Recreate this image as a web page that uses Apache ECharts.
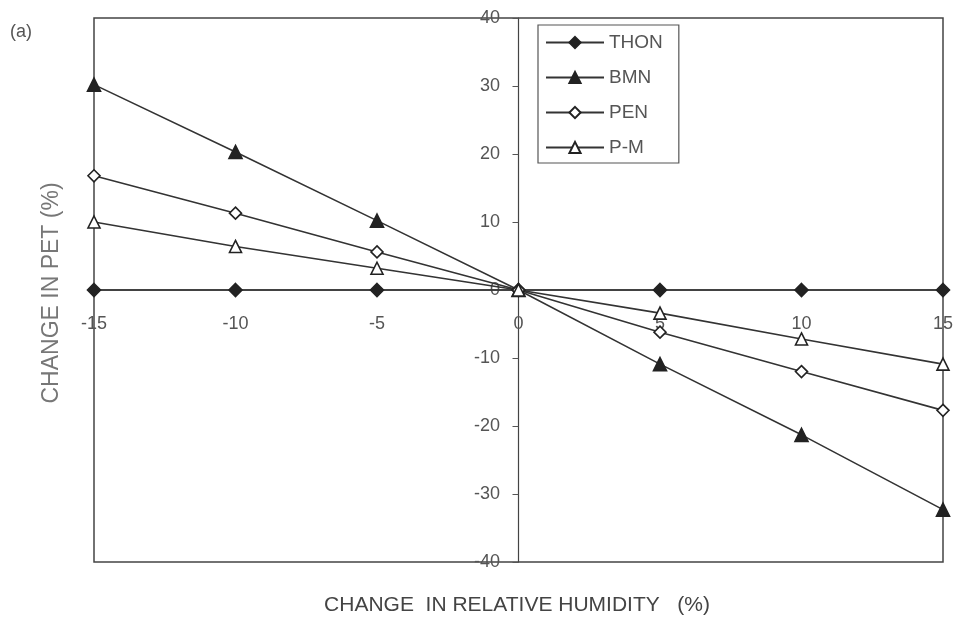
<!DOCTYPE html>
<html><head><meta charset="utf-8">
<script src="https://cdn.jsdelivr.net/npm/echarts@6/dist/echarts.min.js"></script>
<style>html,body{margin:0;padding:0;background:#fff}#c{width:957px;height:617px}</style>
</head><body><div id="c"></div>
<script>
var xValues = [-15, -10, -5, 0, 5, 10, 15];
var thon = [0, 0, 0, 0, 0, 0, 0];
var bmn = [30.2, 20.3, 10.2, 0, -10.9, -21.3, -32.3];
var pen = [16.8, 11.3, 5.6, 0, -6.2, -12.0, -17.7];
var pm = [10.0, 6.4, 3.2, 0, -3.4, -7.2, -10.9];
var seriesNames = ['THON', 'BMN', 'PEN', 'P-M'];
var xTitle = 'CHANGE  IN RELATIVE HUMIDITY   (%)';
var yTitle = 'CHANGE IN PET (%)';

function pairs(arr){ return xValues.map(function(x,i){ return [x, arr[i]]; }); }
var lineCol = '#333';
var textCol = '#555';
function mk(name, data, symbol, filled, size){
  return {
    name: name, type: 'line', data: pairs(data), symbol: symbol, symbolSize: size,
    lineStyle: {color: lineCol, width: 1.6},
    itemStyle: {color: filled ? '#222' : '#fff', borderColor: '#222', borderWidth: 1.6},
    emphasis: {disabled: true}, z: 3
  };
}
var chart = echarts.init(document.getElementById('c'), null, {renderer: 'canvas'});
chart.setOption({
  animation: false,
  backgroundColor: '#fff',
  grid: {left: 94, right: 14, top: 18, bottom: 55, show: true, borderColor: '#444', borderWidth: 1.5},
  xAxis: {
    type: 'value', min: -15, max: 15, interval: 5,
    axisLine: {onZero: true, lineStyle: {color: '#444', width: 1.5}},
    axisTick: {show: false},
    axisLabel: {color: textCol, fontSize: 18, fontFamily: 'Liberation Sans', margin: -247},
    splitLine: {show: false}
  },
  yAxis: {
    type: 'value', min: -40, max: 40, interval: 10,
    axisLine: {onZero: true, lineStyle: {color: '#444', width: 1.2}},
    axisTick: {show: true, length: 6, lineStyle: {color: '#555'}},
    axisLabel: {color: textCol, fontSize: 18, fontFamily: 'Liberation Sans', margin: -406},
    splitLine: {show: false}
  },
  legend: {
    data: seriesNames, orient: 'vertical', left: 538, top: 25,
    itemWidth: 58, itemHeight: 14, itemGap: 16,
    padding: [8, 16, 6, 7],
    borderColor: '#555', borderWidth: 1.2, backgroundColor: '#fff',
    textStyle: {color: textCol, fontSize: 19, lineHeight: 16, fontFamily: 'Liberation Sans'}
  },
  graphic: [
    {type: 'text', left: 10, top: 23, style: {text: '(a)', fill: textCol, font: '18px "Liberation Sans"'}},
    {type: 'text', x: 52, y: 293, rotation: Math.PI/2, style: {text: yTitle, fill: '#777', font: '23px "Liberation Sans"', align: 'center', verticalAlign: 'middle'}},
    {type: 'text', x: 517, y: 605, style: {text: xTitle, fill: '#444', font: '21px "Liberation Sans"', align: 'center', verticalAlign: 'middle'}}
  ],
  series: [
    mk('THON', thon, 'diamond', true, 13),
    mk('BMN', bmn, 'triangle', true, 13),
    mk('PEN', pen, 'diamond', false, 12),
    mk('P-M', pm, 'triangle', false, 12)
  ]
});
</script></body></html>
